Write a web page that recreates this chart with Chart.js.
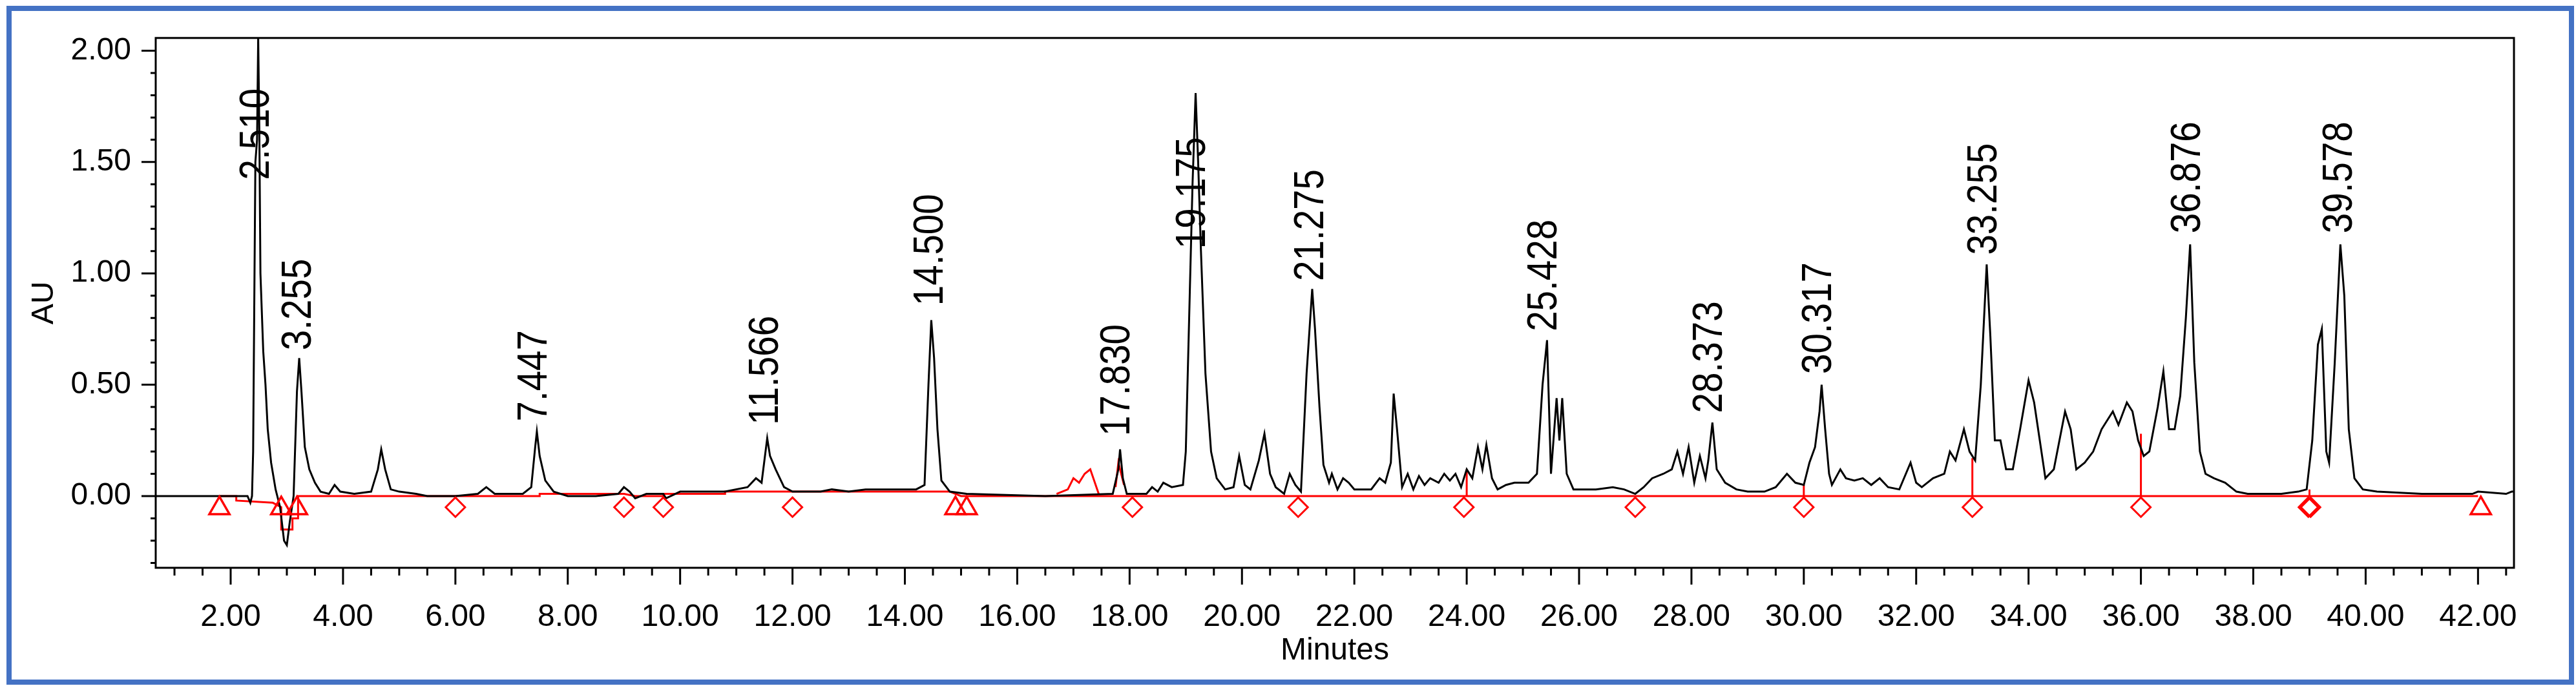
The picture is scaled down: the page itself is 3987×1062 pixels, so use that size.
<!DOCTYPE html>
<html>
<head>
<meta charset="utf-8">
<script src="https://cdn.jsdelivr.net/npm/chart.js@4"></script>
<style>
  html, body { margin: 0; padding: 0; background: #fff; }
  canvas { display: block; }
</style>
</head>
<body>
<canvas id="chrom" width="3987" height="1062"></canvas>
<script>
// Trace: retention time (min) and absorbance (AU)
const traceTime = [0.55,1.8,2.3,2.35,2.38,2.4,2.44,2.47,2.49,2.51,2.53,2.58,2.62,2.66,2.72,2.8,2.88,2.95,3.0,3.05,3.12,3.18,3.22,3.26,3.32,3.4,3.5,3.6,3.75,3.85,3.95,4.2,4.5,4.62,4.68,4.75,4.85,5.0,5.3,5.5,6.0,6.4,6.55,6.7,7.2,7.35,7.42,7.45,7.5,7.6,7.75,8.0,8.5,8.9,9.0,9.1,9.2,9.4,9.7,9.75,10.0,10.3,10.8,11.2,11.35,11.45,11.55,11.6,11.7,11.85,12.0,12.5,12.7,13.0,13.3,13.7,14.0,14.2,14.35,14.42,14.47,14.52,14.58,14.65,14.8,15.1,16.5,17.7,17.8,17.83,17.88,17.95,18.3,18.4,18.5,18.6,18.75,18.95,19.0,19.07,19.12,19.175,19.22,19.27,19.35,19.45,19.55,19.7,19.85,19.95,20.05,20.15,20.3,20.4,20.5,20.6,20.75,20.85,20.95,21.05,21.15,21.25,21.3,21.38,21.45,21.55,21.6,21.7,21.8,21.9,22.0,22.3,22.45,22.55,22.65,22.7,22.76,22.85,22.95,23.05,23.15,23.25,23.35,23.5,23.6,23.7,23.8,23.9,24.0,24.1,24.2,24.28,24.35,24.45,24.55,24.7,24.85,25.0,25.1,25.25,25.35,25.43,25.5,25.6,25.65,25.7,25.78,25.9,26.3,26.6,26.8,27.0,27.15,27.3,27.5,27.65,27.75,27.85,27.95,28.05,28.15,28.25,28.3,28.373,28.45,28.6,28.8,29.0,29.3,29.5,29.7,29.85,30.0,30.1,30.2,30.28,30.317,30.38,30.45,30.5,30.65,30.75,30.9,31.05,31.2,31.35,31.5,31.7,31.9,32.0,32.1,32.3,32.5,32.6,32.7,32.85,32.95,33.05,33.15,33.255,33.32,33.4,33.5,33.6,33.72,33.85,34.0,34.1,34.2,34.3,34.45,34.65,34.75,34.85,35.0,35.15,35.3,35.5,35.6,35.75,35.85,35.95,36.05,36.15,36.3,36.4,36.5,36.6,36.7,36.8,36.876,36.95,37.05,37.15,37.3,37.5,37.7,37.9,38.5,38.8,38.95,39.05,39.15,39.22,39.3,39.35,39.45,39.55,39.62,39.7,39.8,39.95,40.2,41.0,41.9,42.0,42.5,42.6,43.05];
const traceAU = [0,0,0,-0.03,0,0.2,1.5,1.6,2.06,1.65,1.0,0.65,0.5,0.3,0.15,0.03,-0.05,-0.2,-0.22,-0.12,0.0,0.47,0.62,0.47,0.22,0.12,0.06,0.02,0.01,0.05,0.02,0.01,0.02,0.12,0.21,0.12,0.03,0.02,0.01,0.0,0.0,0.01,0.04,0.01,0.01,0.04,0.22,0.29,0.18,0.07,0.02,0.0,0.0,0.01,0.04,0.02,-0.01,0.01,0.01,-0.01,0.02,0.02,0.02,0.04,0.08,0.06,0.26,0.18,0.12,0.04,0.02,0.02,0.03,0.02,0.03,0.03,0.03,0.03,0.05,0.5,0.79,0.62,0.3,0.07,0.02,0.01,0.0,0.01,0.12,0.21,0.08,0.01,0.01,0.04,0.02,0.06,0.04,0.05,0.2,0.9,1.4,1.81,1.5,1.1,0.55,0.2,0.08,0.03,0.04,0.18,0.05,0.03,0.16,0.28,0.1,0.04,0.01,0.1,0.05,0.02,0.55,0.93,0.75,0.4,0.14,0.06,0.1,0.03,0.08,0.06,0.03,0.03,0.08,0.06,0.15,0.46,0.3,0.04,0.1,0.03,0.09,0.05,0.08,0.06,0.1,0.07,0.1,0.04,0.12,0.08,0.22,0.12,0.23,0.08,0.03,0.05,0.06,0.06,0.06,0.1,0.5,0.70,0.1,0.44,0.25,0.44,0.1,0.03,0.03,0.04,0.03,0.01,0.04,0.08,0.1,0.12,0.2,0.1,0.22,0.06,0.18,0.08,0.16,0.33,0.12,0.06,0.03,0.02,0.02,0.04,0.1,0.06,0.05,0.15,0.22,0.38,0.50,0.3,0.1,0.05,0.12,0.08,0.07,0.08,0.05,0.08,0.04,0.03,0.15,0.06,0.04,0.08,0.10,0.20,0.16,0.30,0.2,0.16,0.5,1.04,0.72,0.25,0.25,0.12,0.12,0.3,0.52,0.42,0.25,0.08,0.12,0.38,0.3,0.12,0.15,0.2,0.3,0.38,0.32,0.42,0.38,0.25,0.18,0.2,0.4,0.56,0.3,0.3,0.45,0.8,1.13,0.6,0.2,0.1,0.08,0.06,0.02,0.01,0.01,0.02,0.03,0.25,0.68,0.75,0.2,0.15,0.6,1.13,0.9,0.3,0.08,0.03,0.02,0.01,0.01,0.02,0.01,0.02,0.02];

// Integration baseline (red)
const baseTime = [1.8,2.1,2.1,2.75,2.9,2.9,3.1,3.1,3.2,3.2,7.5,7.5,9.0,9.2,9.7,9.7,10.8,10.8,14.8,15.0,42.0];
const baseAU = [0,0,-0.02,-0.03,-0.05,-0.15,-0.15,-0.1,-0.1,0,0,0.01,0.01,0,0,0.01,0.01,0.02,0.02,0,0];

// Small red-filled peaks before 18 min
const smallTime = [16.7,16.9,17.0,17.1,17.2,17.3,17.45,null,17.75,17.8,17.9];
const smallAU = [0.01,0.03,0.08,0.06,0.1,0.12,0.01,null,0.04,0.15,0.05];

// Drop lines between peaks
const dropTime = [24.0,30.0,33.0,36.0,39.0];
const dropTop = [0.12,0.05,0.17,0.28,0.03];

// Peak start/end markers
const triangleTime = [1.8,2.9,3.18,14.9,15.1,42.05];
const diamondTime = [6.0,9.0,9.7,12.0,18.05,21.0,23.95,27.0,30.0,33.0,36.0,38.98,39.02];
const markerAU = -0.055;

// Peak labels: retention time, and AU level where the text begins
const peakLabels = ['2.510','3.255','7.447','11.566','14.500','17.830','19.175','21.275','25.428','28.373','30.317','33.255','36.876','39.578'];
const labelAU = [1.42,0.655,0.335,0.32,0.855,0.27,1.11,0.966,0.74,0.373,0.548,1.083,1.18,1.18];

const xMajor = [2,4,6,8,10,12,14,16,18,20,22,24,26,28,30,32,34,36,38,40,42];
const yMajor = [0,0.5,1.0,1.5,2.0];

const pts = (xs, ys) => xs.map((x, i) => (x === null ? { x: NaN, y: NaN } : { x: x, y: ys[i] }));

const dropData = [];
dropTime.forEach((t, i) => {
  dropData.push({ x: t, y: 0 }, { x: t, y: dropTop[i] }, { x: NaN, y: NaN });
});

const FONT = '"Liberation Sans", Arial, sans-serif';

const decor = {
  id: 'decor',
  afterDraw(chart) {
    const { ctx, chartArea: a, scales: { x, y } } = chart;
    ctx.save();
    ctx.strokeStyle = '#000';
    ctx.lineWidth = 3;
    ctx.strokeRect(a.left, a.top, a.right - a.left, a.bottom - a.top);

    // x ticks: major every 2, minor every 0.5
    ctx.beginPath();
    for (let k = 2; k <= 86; k++) {
      const v = k / 2;
      const px = x.getPixelForValue(v);
      if (px > a.right + 1) continue;
      const len = v % 2 === 0 ? 26 : 12;
      ctx.moveTo(px, a.bottom);
      ctx.lineTo(px, a.bottom + len);
    }
    // y ticks: major every 0.5, minor every 0.1
    for (let k = -3; k <= 20; k++) {
      const py = y.getPixelForValue(k / 10);
      const len = k % 5 === 0 ? 22 : 8;
      ctx.moveTo(a.left, py);
      ctx.lineTo(a.left - len, py);
    }
    ctx.stroke();

    // peak labels (narrow, like the instrument font)
    ctx.fillStyle = '#000';
    ctx.font = '65px ' + FONT;
    ctx.textAlign = 'left';
    ctx.textBaseline = 'middle';
    peakLabels.forEach((s, i) => {
      const px = x.getPixelForValue(parseFloat(s)) - 3;
      const py = y.getPixelForValue(labelAU[i]);
      ctx.save();
      ctx.translate(px, py);
      ctx.rotate(-Math.PI / 2);
      ctx.scale(0.87, 1);
      ctx.fillText(s, 0, 0);
      ctx.restore();
    });

    // axis titles
    ctx.font = '48px ' + FONT;
    ctx.textAlign = 'center';
    ctx.fillText('Minutes', (a.left + a.right) / 2, 1008);
    ctx.save();
    ctx.translate(69, (a.top + a.bottom) / 2);
    ctx.rotate(-Math.PI / 2);
    ctx.fillText('AU', 0, 0);
    ctx.restore();

    // outer blue frame
    ctx.strokeStyle = '#4472C4';
    ctx.lineWidth = 8;
    ctx.strokeRect(14, 13, 3966, 1043);
    ctx.restore();
  }
};

new Chart(document.getElementById('chrom').getContext('2d'), {
  type: 'scatter',
  data: {
    datasets: [
      { data: pts(baseTime, baseAU), showLine: true, borderColor: '#ff0000', borderWidth: 3, pointRadius: 0, order: 2 },
      { data: pts(smallTime, smallAU), showLine: true, borderColor: '#ff0000', borderWidth: 3, pointRadius: 0, spanGaps: false, order: 2 },
      { data: dropData, showLine: true, borderColor: '#ff0000', borderWidth: 3, pointRadius: 0, spanGaps: false, order: 2 },
      { data: pts(traceTime, traceAU), showLine: true, borderColor: '#000', borderWidth: 3, pointRadius: 0, order: 1 },
      { data: triangleTime.map(t => ({ x: t, y: markerAU })), pointStyle: 'triangle', pointRadius: 18, borderColor: '#ff0000', borderWidth: 3.5, backgroundColor: 'rgba(0,0,0,0)', order: 0 },
      { data: diamondTime.map(t => ({ x: t, y: markerAU + 0.005 })), pointStyle: 'rectRot', pointRadius: 15, borderColor: '#ff0000', borderWidth: 3, backgroundColor: 'rgba(0,0,0,0)', order: 0 }
    ]
  },
  options: {
    responsive: false,
    animation: false,
    devicePixelRatio: 1,
    layout: { padding: { top: 51, right: 96, left: 0, bottom: 0 } },
    plugins: { legend: { display: false }, tooltip: { enabled: false } },
    elements: { line: { tension: 0 } },
    scales: {
      x: {
        type: 'linear', min: 0.666, max: 42.64,
        afterBuildTicks: s => { s.ticks = xMajor.map(v => ({ value: v })); },
        afterFit: s => { s.height = 183; },
        grid: { display: false },
        border: { display: false },
        ticks: { padding: 40, color: '#000', font: { family: FONT, size: 48 }, callback: v => v.toFixed(2) }
      },
      y: {
        type: 'linear', min: -0.322, max: 2.057,
        afterBuildTicks: s => { s.ticks = yMajor.map(v => ({ value: v })); },
        afterFit: s => { s.width = 241; },
        grid: { display: false },
        border: { display: false },
        ticks: { padding: 30, color: '#000', font: { family: FONT, size: 48 }, callback: v => v.toFixed(2) }
      }
    }
  },
  plugins: [decor]
});
</script>
</body>
</html>
